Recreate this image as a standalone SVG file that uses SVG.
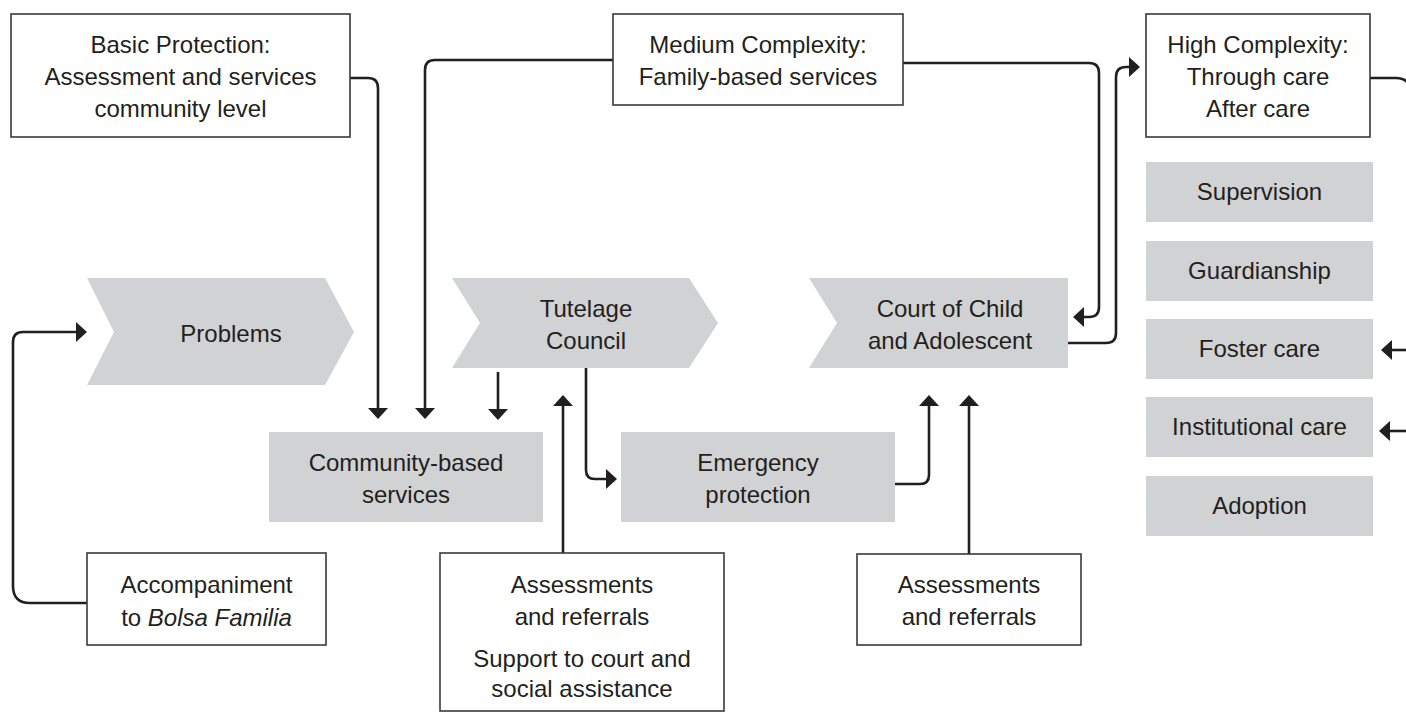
<svg xmlns="http://www.w3.org/2000/svg" width="1406" height="712" viewBox="0 0 1406 712">
<defs>
<style>
.t{font-family:"Liberation Sans",Arial,sans-serif;font-size:24px;fill:#231f20;text-anchor:middle}
.box{fill:#ffffff;stroke:#3a3a3a;stroke-width:1.6}
.g{fill:#d1d2d4}
.c{fill:none;stroke:#231f20;stroke-width:2.6}
</style>
<marker id="ah" viewBox="0 0 11 20" refX="0" refY="10" markerWidth="11" markerHeight="20" markerUnits="userSpaceOnUse" orient="auto">
<path d="M0,0 L11,10 L0,20 Z" fill="#231f20"/>
</marker>
</defs>
<rect width="1406" height="712" fill="#ffffff"/>

<g id="connectors">
<path class="c" d="M350,78 H368 Q378,78 378,88 V408" marker-end="url(#ah)"/>
<path class="c" d="M613,60 H435 Q425,60 425,70 V408" marker-end="url(#ah)"/>
<path class="c" d="M498,372 V409" marker-end="url(#ah)"/>
<path class="c" d="M563,553 V406" marker-end="url(#ah)"/>
<path class="c" d="M586,368 V470 Q586,479 595,479 H606" marker-end="url(#ah)"/>
<path class="c" d="M895,484 H920 Q929,484 929,475 V406" marker-end="url(#ah)"/>
<path class="c" d="M969,554 V406" marker-end="url(#ah)"/>
<path class="c" d="M903,63 H1089 Q1099,63 1099,73 V307 Q1099,317 1089,317 H1084" marker-end="url(#ah)"/>
<path class="c" d="M1068,343 H1106 Q1116,343 1116,333 V77 Q1116,67 1126,67 H1129" marker-end="url(#ah)"/>
<path class="c" d="M1370,78 H1396 Q1410,78 1410,92 V431"/>
<path class="c" d="M1410,350 H1392" marker-end="url(#ah)"/>
<path class="c" d="M1410,431 H1390" marker-end="url(#ah)"/>
<path class="c" d="M87,603 H30 Q13,603 13,586 V342 Q13,332 23,332 H76" marker-end="url(#ah)"/>
</g>

<g id="basic">
<rect class="box" x="11" y="14" width="339" height="123"/>
<text class="t" x="180.5" y="53">Basic Protection:</text>
<text class="t" x="180.5" y="85">Assessment and services</text>
<text class="t" x="180.5" y="117">community level</text>
</g>

<g id="medium">
<rect class="box" x="613" y="14" width="290" height="91"/>
<text class="t" x="758" y="53">Medium Complexity:</text>
<text class="t" x="758" y="85">Family-based services</text>
</g>

<g id="high">
<rect class="box" x="1146" y="14" width="224" height="123"/>
<text class="t" x="1258" y="53">High Complexity:</text>
<text class="t" x="1258" y="85">Through care</text>
<text class="t" x="1258" y="117">After care</text>
</g>

<g id="problems">
<polygon class="g" points="87,278 325,278 354,332 325,385 87,385 114,332"/>
<text class="t" x="231" y="342">Problems</text>
</g>

<g id="tutelage">
<polygon class="g" points="452,278 689,278 718,323 689,368 452,368 480,323"/>
<text class="t" x="586" y="317">Tutelage</text>
<text class="t" x="586" y="349">Council</text>
</g>

<g id="court">
<polygon class="g" points="809,278 1068,278 1068,368 809,368 837,323"/>
<text class="t" x="950" y="317">Court of Child</text>
<text class="t" x="950" y="349">and Adolescent</text>
</g>

<g id="community">
<rect class="g" x="269" y="432" width="274" height="90"/>
<text class="t" x="406" y="471">Community-based</text>
<text class="t" x="406" y="503">services</text>
</g>

<g id="emergency">
<rect class="g" x="621" y="432" width="274" height="90"/>
<text class="t" x="758" y="471">Emergency</text>
<text class="t" x="758" y="503">protection</text>
</g>

<g id="supervision">
<rect class="g" x="1146" y="162" width="227" height="60"/>
<text class="t" x="1259.5" y="200">Supervision</text>
</g>
<g id="guardianship">
<rect class="g" x="1146" y="241" width="227" height="60"/>
<text class="t" x="1259.5" y="279">Guardianship</text>
</g>
<g id="foster">
<rect class="g" x="1146" y="319" width="227" height="60"/>
<text class="t" x="1259.5" y="357">Foster care</text>
</g>
<g id="institutional">
<rect class="g" x="1146" y="397" width="227" height="60"/>
<text class="t" x="1259.5" y="435">Institutional care</text>
</g>
<g id="adoption">
<rect class="g" x="1146" y="476" width="227" height="60"/>
<text class="t" x="1259.5" y="514">Adoption</text>
</g>

<g id="accompaniment">
<rect class="box" x="87" y="553" width="239" height="92"/>
<text class="t" x="206.5" y="593">Accompaniment</text>
<text class="t" x="206.5" y="626">to <tspan font-style="italic">Bolsa Familia</tspan></text>
</g>

<g id="assessments1">
<rect class="box" x="440" y="553" width="284" height="158"/>
<text class="t" x="582" y="593">Assessments</text>
<text class="t" x="582" y="625">and referrals</text>
<text class="t" x="582" y="667">Support to court and</text>
<text class="t" x="582" y="697">social assistance</text>
</g>

<g id="assessments2">
<rect class="box" x="857" y="554" width="224" height="91"/>
<text class="t" x="969" y="593">Assessments</text>
<text class="t" x="969" y="625">and referrals</text>
</g>
</svg>
